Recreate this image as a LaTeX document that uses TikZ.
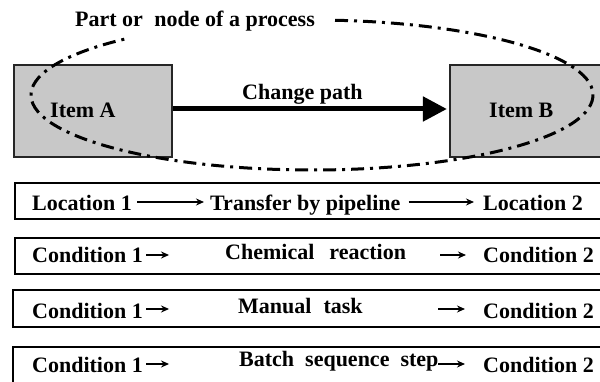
\documentclass[tikz,border=0pt]{standalone}
\usepackage{fontspec}
\setmainfont{Liberation Serif}
\usetikzlibrary{arrows.meta,calc}
\begin{document}
\begin{tikzpicture}[x=1pt,y=1pt,
  lbl/.style={font=\fontsize{22}{26}\selectfont\bfseries, inner sep=0pt, anchor=base west},
  itembox/.style={draw=black!85, line width=2.2pt, fill={rgb,255:red,200;green,200;blue,200},
    minimum height=92pt, inner sep=0pt},
  rowbox/.style={draw=black, line width=2pt, fill=white, inner sep=0pt},
  rowarrow/.style={line width=1.8pt, -{Stealth[length=8pt,width=7pt]}},
  procline/.style={line width=3pt, dash pattern=on 13pt off 6pt on 3pt off 6pt}
]
\useasboundingbox (0,0) rectangle (600,381);
\clip (0,0) rectangle (600,381);

% the two items and the change path between them
\node[itembox, minimum width=158pt] (A) at (93,270) {};
\node[itembox, minimum width=160pt] (B) at (530,270) {};
\node[lbl] (Alabel) at (50,263) {Item A};
\node[lbl] (Blabel) at (489,263) {Item B};
\node[lbl] (path) at (242,281) {Change path};
\draw[line width=5pt, -{Triangle[length=24pt,width=24pt]}]
  ($(A.east)+(0,2)$) -- ($(B.west)+(-2,2)$);

% dash-dotted outline of a process part
\draw[procline] ($(312,286)+(85.3:281pt and 75pt)$)
  arc[start angle=85.3, end angle=-229.6, x radius=281pt, y radius=75pt];
\node[lbl] (part) at (75,354) {Part or\hspace{6pt} node of a process};

% example rows
\node[rowbox, minimum width=595pt, minimum height=36pt] (row1) at (312.5,180) {};
\node[rowbox, minimum width=595pt, minimum height=36pt] (row2) at (312.5,125) {};
\node[rowbox, minimum width=597pt, minimum height=37pt] (row3) at (311.5,72.5) {};
\node[rowbox, minimum width=597pt, minimum height=43pt] (row4) at (311.5,12.5) {};

\coordinate (y1) at (0,179);
\coordinate (y2) at (0,126);
\coordinate (y3) at (0,72);
\coordinate (y4) at (0,17);

% row 1
\node[lbl] (loc1) at (32,171) {Location 1};
\node[lbl] (trans) at (210,171) {Transfer by pipeline};
\node[lbl] (loc2) at (483,171) {Location 2};
\draw[rowarrow] ($(loc1.east |- y1)+(5,0)$) -- ($(trans.west |- y1)+(-6,0)$);
\draw[rowarrow] ($(trans.east |- y1)+(8,0)$) -- ($(loc2.west |- y1)+(-9,0)$);

% row 2
\node[lbl] (c21) at (32,119) {Condition 1};
\node[lbl] (chem) at (225,122) {Chemical\hspace{15pt}reaction};
\node[lbl] (c22) at (483,119) {Condition 2};
\draw[rowarrow] ($(c21.east |- y2)+(3,0)$) -- ++(23,0);
\draw[rowarrow] ($(c22.west |- y2)+(-43,0)$) -- ++(26,0);

% row 3
\node[lbl] (c31) at (32,63) {Condition 1};
\node[lbl] (manual) at (238,68) {Manual\hspace{12pt}task};
\node[lbl] (c32) at (483,63) {Condition 2};
\draw[rowarrow] ($(c31.east |- y3)+(3,0)$) -- ++(23,0);
\draw[rowarrow] ($(c32.west |- y3)+(-45,0)$) -- ++(27,0);

% row 4
\node[lbl] (c41) at (32,9) {Condition 1};
\node[lbl] (batch) at (239,15) {Batch\hspace{11pt}sequence\hspace{11pt}step};
\node[lbl] (c42) at (483,9) {Condition 2};
\draw[rowarrow] ($(c41.east |- y4)+(3,0)$) -- ++(23,0);
\draw[rowarrow] ($(c42.west |- y4)+(-45,0)$) -- ++(27,0);
\end{tikzpicture}
\end{document}
